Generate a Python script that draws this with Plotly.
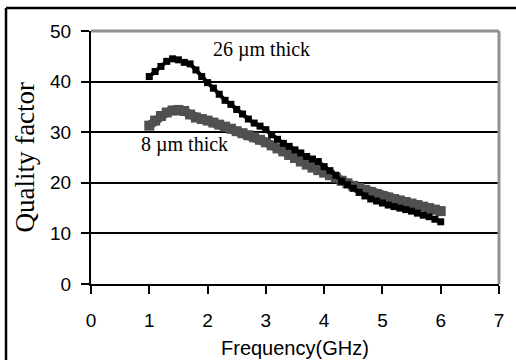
import plotly.graph_objects as go

freq = [1.0, 1.1, 1.2, 1.3, 1.4, 1.5, 1.6, 1.7, 1.8, 1.9,
        2.0, 2.1, 2.2, 2.3, 2.4, 2.5, 2.6, 2.7, 2.8, 2.9,
        3.0, 3.1, 3.2, 3.3, 3.4, 3.5, 3.6, 3.7, 3.8, 3.9,
        4.0, 4.1, 4.2, 4.3, 4.4, 4.5, 4.6, 4.7, 4.8, 4.9,
        5.0, 5.1, 5.2, 5.3, 5.4, 5.5, 5.6, 5.7, 5.8, 5.9, 6.0]

q_26um = [41.0, 42.0, 43.0, 44.0, 44.5, 44.3, 43.8, 43.5, 42.3, 41.0,
          39.8, 38.7, 37.5, 36.3, 35.5, 34.5, 33.6, 32.6, 31.8, 31.2,
          30.5, 29.5, 28.6, 27.8, 27.2, 26.5, 25.9, 25.2, 24.7, 24.2,
          23.2, 22.4, 21.5, 20.3, 19.6, 18.9, 18.1, 17.4, 16.8, 16.4,
          16.0, 15.6, 15.3, 15.0, 14.7, 14.4, 14.0, 13.6, 13.3, 12.8, 12.3]

q_8um = [31.3, 32.3, 33.2, 33.9, 34.3, 34.4, 34.2, 33.5, 32.9, 32.6,
         32.3, 31.9, 31.5, 31.1, 30.7, 30.2, 29.8, 29.4, 29.0, 28.5,
         28.0, 27.4, 26.8, 26.2, 25.5, 24.9, 24.2, 23.6, 23.0, 22.5,
         22.0, 21.5, 21.0, 20.4, 19.9, 19.4, 19.0, 18.6, 18.2, 17.8,
         17.4, 17.1, 16.8, 16.5, 16.2, 15.9, 15.6, 15.3, 15.0, 14.7, 14.4]

x_ticks = [0, 1, 2, 3, 4, 5, 6, 7]
y_ticks = [0, 10, 20, 30, 40, 50]

fig = go.Figure()
fig.add_trace(go.Scatter(x=freq, y=q_8um, mode="lines+markers",
                         line=dict(color="#505050", width=9),
                         marker=dict(symbol="square", size=10, color="#505050"),
                         showlegend=False))
fig.add_trace(go.Scatter(x=freq, y=q_26um, mode="lines+markers",
                         line=dict(color="black", width=4),
                         marker=dict(symbol="square", size=7, color="black"),
                         showlegend=False))

tickfont = dict(family="Liberation Sans, Arial", size=19, color="black")
serif = "Liberation Serif, Times New Roman"

fig.update_layout(
    width=516, height=360,
    margin=dict(l=91, r=17, t=31, b=76),
    paper_bgcolor="white", plot_bgcolor="white",
    xaxis=dict(range=[0, 7], tickvals=x_ticks, ticks="outside", ticklen=8,
               tickwidth=2, tickcolor="black", showgrid=False, zeroline=False,
               showline=True, linecolor="black", linewidth=2,
               tickfont=tickfont, ticklabelstandoff=10),
    yaxis=dict(range=[0, 50], tickvals=y_ticks, ticks="outside", ticklen=8,
               tickwidth=2, tickcolor="black", showgrid=True, gridcolor="black",
               gridwidth=2, zeroline=False, showline=True, linecolor="black",
               linewidth=2, tickfont=tickfont, ticklabelstandoff=6),
    shapes=[
        dict(type="line", xref="paper", yref="paper", x0=0, x1=1, y0=1, y1=1,
             line=dict(color="#909090", width=3), layer="above"),
        dict(type="line", xref="paper", yref="paper", x0=1, x1=1, y0=0, y1=1,
             line=dict(color="#909090", width=3), layer="above"),
        dict(type="line", xref="paper", yref="paper", x0=-0.2083, x1=1.06,
             y0=1.0909, y1=1.0909, line=dict(color="black", width=2.5)),
        dict(type="line", xref="paper", yref="paper", x0=-0.2083, x1=-0.2083,
             y0=1.0909, y1=-0.33, line=dict(color="black", width=2.5)),
    ],
    annotations=[
        dict(text="26 µm thick", x=2.92, y=46.4, xref="x", yref="y",
             showarrow=False, font=dict(family=serif, size=20, color="black")),
        dict(text="8 µm thick", x=1.6, y=27.5, xref="x", yref="y",
             showarrow=False, font=dict(family=serif, size=20, color="black")),
        dict(text="Frequency(GHz)", x=0.5, y=-0.253, xref="paper", yref="paper",
             xanchor="center", yanchor="middle", showarrow=False,
             font=dict(family="Liberation Sans, Arial", size=20, color="black")),
        dict(text="Quality factor", x=-0.164, y=0.5, xref="paper", yref="paper",
             xanchor="center", yanchor="middle", textangle=-90, showarrow=False,
             font=dict(family=serif, size=27, color="black")),
    ],
)

fig.write_html("out.html")
